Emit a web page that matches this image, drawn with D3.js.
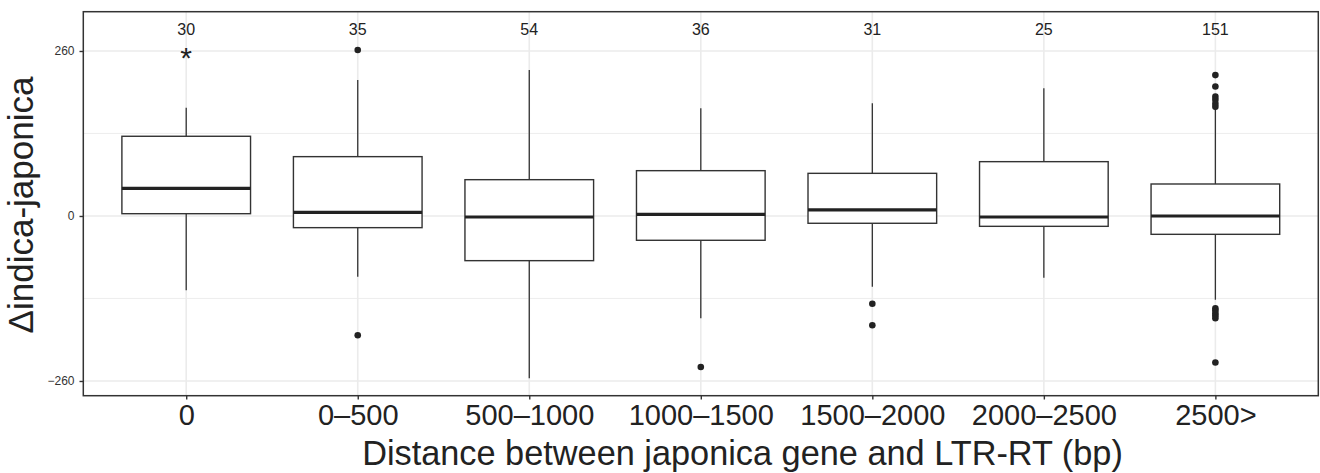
<!DOCTYPE html>
<html>
<head>
<meta charset="utf-8">
<script src="https://cdn.jsdelivr.net/npm/d3@7"></script>
<style>
  html, body { margin: 0; padding: 0; background: #ffffff; }
  svg { display: block; font-family: "Liberation Sans", Arial, Helvetica, sans-serif; }
</style>
</head>
<body>
<svg id="chart" width="1320" height="473"></svg>
<script>
// ---- data ----
const categories = ["0", "0\u2013500", "500\u20131000", "1000\u20131500", "1500\u20132000", "2000\u20132500", "2500>"];
const counts = [30, 35, 54, 36, 31, 25, 151];
const lowerWhisker = [-117, -95.6, -255.8, -161.3, -111.4, -97.2, -132];
const q1Values = [3.6, -18.4, -70.4, -38.3, -11.5, -16.3, -28.9];
const medianValues = [43.6, 5.8, -1.6, 2.6, 9.5, -1.6, 0];
const q3Values = [125.6, 93.5, 57.2, 71.4, 67.2, 85.6, 50.4];
const upperWhisker = [170.7, 214.3, 230, 169.7, 177.6, 201.2, 168];
const outlierValues = [
  [],
  [261.6, -188],
  [],
  [-238],
  [-138.2, -172.3],
  [],
  [222, 204, 188, 183, 177, 172, -145.5, -149, -153.4, -157, -161, -231]
];
const starCategory = "0";
const starValue = 260;
const yMajorTicks = [-260, 0, 260];
const yMinorTicks = [-130, 130];
const yDomain = [-283.2, 321.9];
const xTitle = "Distance between japonica gene and LTR-RT (bp)";
const yTitle = "\u0394indica-japonica";

// ---- layout ----
const svg = d3.select("#chart");
const panel = { left: 83.3, top: 11.7, right: 1318.3, bottom: 395.7 };

const x = d3.scalePoint().domain(categories).range([panel.left, panel.right]).padding(0.6);
const y = d3.scaleLinear().domain(yDomain).range([panel.bottom, panel.top]);
const boxW = x.step() * 0.75;

const ink = "#333333";
const gridCol = "#ebebeb";

// grid: minor
svg.append("g").selectAll("line").data(yMinorTicks).join("line")
  .attr("x1", panel.left).attr("x2", panel.right)
  .attr("y1", d => y(d)).attr("y2", d => y(d))
  .attr("stroke", gridCol).attr("stroke-width", 0.9);
// grid: major
svg.append("g").selectAll("line").data(yMajorTicks).join("line")
  .attr("x1", panel.left).attr("x2", panel.right)
  .attr("y1", d => y(d)).attr("y2", d => y(d))
  .attr("stroke", gridCol).attr("stroke-width", 1.6);
svg.append("g").selectAll("line").data(categories).join("line")
  .attr("x1", d => x(d)).attr("x2", d => x(d))
  .attr("y1", panel.top).attr("y2", panel.bottom)
  .attr("stroke", gridCol).attr("stroke-width", 1.6);

const groups = categories.map((c, i) => ({
  c, n: counts[i], lo: lowerWhisker[i], q1: q1Values[i], med: medianValues[i],
  q3: q3Values[i], hi: upperWhisker[i], out: outlierValues[i]
}));

const g = svg.append("g");
// whiskers
g.selectAll("line.wu").data(groups).join("line").attr("class", "wu")
  .attr("x1", d => x(d.c)).attr("x2", d => x(d.c))
  .attr("y1", d => y(d.q3)).attr("y2", d => y(d.hi))
  .attr("stroke", ink).attr("stroke-width", 1.3);
g.selectAll("line.wl").data(groups).join("line").attr("class", "wl")
  .attr("x1", d => x(d.c)).attr("x2", d => x(d.c))
  .attr("y1", d => y(d.q1)).attr("y2", d => y(d.lo))
  .attr("stroke", ink).attr("stroke-width", 1.3);
// boxes
g.selectAll("rect").data(groups).join("rect")
  .attr("x", d => x(d.c) - boxW / 2).attr("width", boxW)
  .attr("y", d => y(d.q3)).attr("height", d => y(d.q1) - y(d.q3))
  .attr("fill", "#ffffff").attr("stroke", ink).attr("stroke-width", 1.4);
// medians
g.selectAll("line.med").data(groups).join("line").attr("class", "med")
  .attr("x1", d => x(d.c) - boxW / 2).attr("x2", d => x(d.c) + boxW / 2)
  .attr("y1", d => y(d.med)).attr("y2", d => y(d.med))
  .attr("stroke", "#222222").attr("stroke-width", 3.2);
// outliers
const pts = groups.flatMap(d => d.out.map(v => ({ c: d.c, v })));
g.selectAll("circle").data(pts).join("circle")
  .attr("cx", d => x(d.c)).attr("cy", d => y(d.v)).attr("r", 3.3)
  .attr("fill", "#222222");

// counts
g.selectAll("text.n").data(groups).join("text").attr("class", "n")
  .attr("x", d => x(d.c)).attr("y", 35)
  .attr("text-anchor", "middle").attr("font-size", 16).attr("fill", "#222")
  .text(d => d.n);

// star
g.append("text").attr("x", x(starCategory)).attr("y", y(starValue) + 17)
  .attr("text-anchor", "middle").attr("font-size", 30).attr("fill", "#222")
  .text("*");

// panel border
svg.append("rect").attr("x", panel.left).attr("y", panel.top)
  .attr("width", panel.right - panel.left).attr("height", panel.bottom - panel.top)
  .attr("fill", "none").attr("stroke", ink).attr("stroke-width", 1.5);

// axes
const xAxis = d3.axisBottom(x).tickSize(3.8).tickPadding(5);
const xg = svg.append("g").attr("transform", `translate(0,${panel.bottom})`).call(xAxis);
xg.select(".domain").remove();
xg.selectAll(".tick line").attr("stroke", ink).attr("stroke-width", 1.4);
xg.selectAll(".tick text").attr("font-size", 29).attr("fill", "#222")
  .attr("font-family", "Liberation Sans, Arial, sans-serif").attr("dy", null).attr("y", 29);

const yAxis = d3.axisLeft(y).tickValues(yMajorTicks)
  .tickFormat(d => d < 0 ? "\u2212" + Math.abs(d) : String(d)).tickSize(3.8).tickPadding(5);
const yg = svg.append("g").attr("transform", `translate(${panel.left},0)`).call(yAxis);
yg.select(".domain").remove();
yg.selectAll(".tick line").attr("stroke", ink).attr("stroke-width", 1.4);
yg.selectAll(".tick text").attr("font-size", 12).attr("fill", "#333")
  .attr("font-family", "Liberation Sans, Arial, sans-serif");

// titles
svg.append("text").attr("x", 742.5).attr("y", 465)
  .attr("text-anchor", "middle").attr("font-size", 34.3).attr("fill", "#222")
  .text(xTitle);
svg.append("text")
  .attr("transform", `translate(33,205) rotate(-90)`)
  .attr("text-anchor", "middle").attr("font-size", 35).attr("fill", "#222")
  .text(yTitle);
</script>
</body>
</html>
